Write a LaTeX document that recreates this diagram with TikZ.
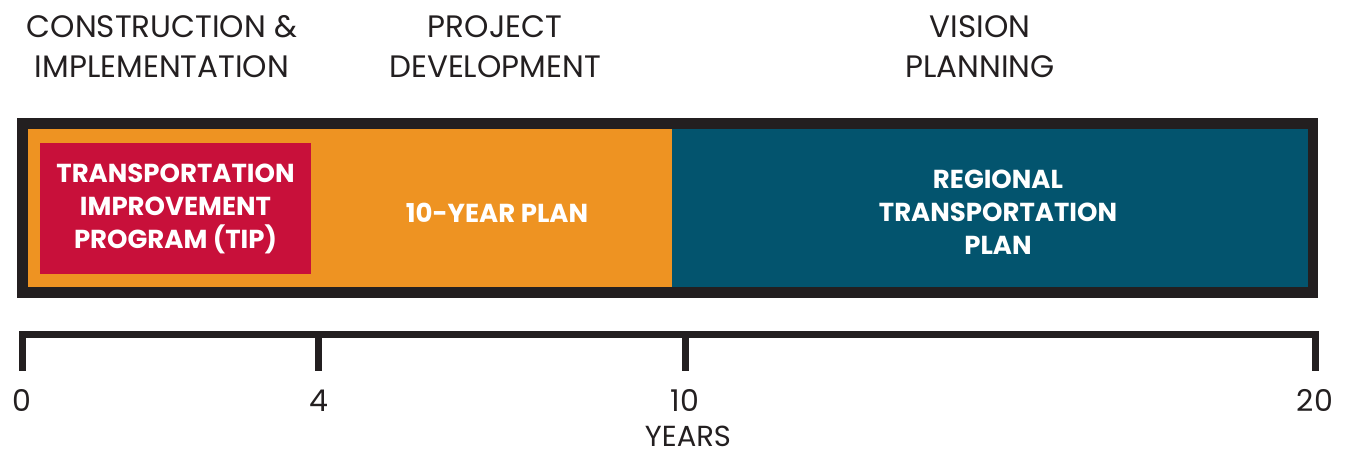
\documentclass[tikz,border=0pt]{standalone}
\usepackage{fontspec}
\setmainfont{Poppins}
\definecolor{inkblack}{HTML}{231F20}
\definecolor{planorange}{HTML}{EE9322}
\definecolor{planteal}{HTML}{03546E}
\definecolor{tipred}{HTML}{C8103A}

\begin{document}
\begin{tikzpicture}[x=1pt,y=-1pt,
	hdr/.style={align=center,text=inkblack,font=\fontsize{31}{40}\selectfont},
	lbl/.style={align=center,text=white,font=\bfseries\fontsize{26}{33}\selectfont},
	yrlbl/.style={text=inkblack,inner sep=1pt,font=\fontsize{30}{32}\selectfont},
	band/.style={inner sep=0pt,minimum height=158pt}]
	\useasboundingbox (0,0) rectangle (1350,456);
	\node[hdr] (cons) at (162,47) {CONSTRUCTION \&\\IMPLEMENTATION};
	\node[hdr] (proj) at (495,47) {PROJECT\\DEVELOPMENT};
	\node[hdr] (vis) at (980,47) {VISION\\PLANNING};

	\node[band,fill=planorange,minimum width=650pt] (near) at (347,208) {};
	\node[band,fill=planteal,minimum width=641pt] (far) at (992.5,208) {};
	\draw[line width=10.5pt,inkblack] ([shift={(0.5pt,5.5pt)}]near.north west) rectangle ([shift={(0pt,-5.5pt)}]far.south east);
	\node[fill=tipred,inner sep=0pt,minimum width=271pt,minimum height=131pt] (tip) at (175.5,208.5) {};
	\node[lbl] at (tip) {TRANSPORTATION\\IMPROVEMENT\\PROGRAM (TIP)};
	\node[lbl] (ten) at (497,213) {10-YEAR PLAN};
	\node[lbl] (rtp) at (998,212) {REGIONAL\\TRANSPORTATION\\PLAN};

	\coordinate (t0) at (22,334.5);
	\coordinate (t4) at (318.5,334.5);
	\coordinate (t10) at (685,334.5);
	\coordinate (t20) at (1315,334.5);
	\draw[line width=7pt,inkblack] ([yshift=-36pt]t0) -- (t0) -- (t20) -- ([yshift=-36pt]t20);
	\draw[line width=7pt,inkblack] (t4) -- ++(0,36);
	\draw[line width=7pt,inkblack] (t10) -- ++(0,36);
	\foreach \t/\v in {t0/0,t4/4,t10/10,t20/20}
		\node[yrlbl] (l\t) at ([yshift=-66pt]\t) {\v};
	\node[yrlbl,font=\fontsize{29}{32}\selectfont] (years) at (688,436) {YEARS};
\end{tikzpicture}
\end{document}
